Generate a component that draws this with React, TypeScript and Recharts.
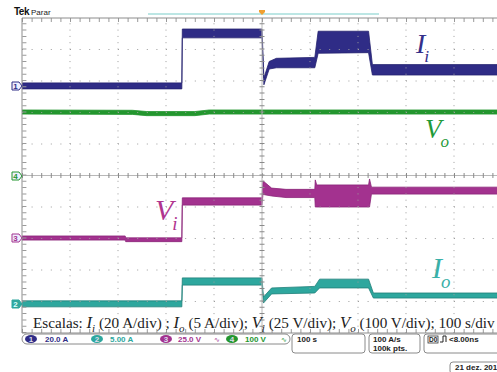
import React from "react";
import { ComposedChart, Area, XAxis, YAxis, ReferenceLine } from "recharts";

// time in divisions (100 s/div), values in screen divisions (0 = bottom of graticule)
const iiTime = [0, 3.33, 3.34, 5.0, 5.04, 5.15, 5.3, 6.1, 6.17, 7.22, 7.3, 10];
const iiHigh = [7.94, 7.94, 9.65, 9.65, 8.1, 8.62, 8.72, 8.75, 9.58, 9.58, 8.52, 8.52];
const iiLow = [7.75, 7.75, 9.37, 9.37, 7.88, 8.38, 8.42, 8.42, 8.88, 8.9, 8.19, 8.19];

const voTime = [0, 2.3, 2.6, 3.6, 3.9, 10];
const voHigh = [7.08, 7.07, 7.03, 7.03, 7.08, 7.08];
const voLow = [6.95, 6.94, 6.9, 6.9, 6.95, 6.95];

const viTime = [0, 2.15, 2.16, 3.33, 3.34, 5.0, 5.02, 5.2, 5.5, 6.1, 6.11, 6.14, 7.22, 7.24, 7.28, 10];
const viHigh = [3.08, 3.08, 3.02, 3.02, 4.29, 4.29, 4.83, 4.6, 4.56, 4.56, 4.86, 4.7, 4.7, 4.89, 4.63, 4.63];
const viLow = [2.95, 2.95, 2.9, 2.9, 4.06, 4.06, 4.4, 4.35, 4.3, 4.3, 4.0, 4.0, 4.0, 4.0, 4.41, 4.41];

const ioTime = [0, 3.33, 3.34, 5.0, 5.03, 5.2, 6.1, 6.2, 7.22, 7.32, 10];
const ioHigh = [1.02, 1.02, 1.75, 1.75, 1.14, 1.43, 1.48, 1.71, 1.71, 1.27, 1.27];
const ioLow = [0.83, 0.83, 1.52, 1.52, 0.95, 1.24, 1.27, 1.43, 1.43, 1.11, 1.11];

const divTicks = [0, 1, 2, 3, 4, 5, 6, 7, 8, 9, 10];
const innerTicks = [1, 2, 3, 4, 6, 7, 8, 9];

const C_II = "#2f2c86";
const C_VO = "#23962e";
const C_VI = "#a3328f";
const C_IO = "#2ea79e";
const GRID = "#9c9c9c";

const band = (t: number[], lo: number[], hi: number[]) =>
  t.map((x, i) => ({ t: x, band: [lo[i], hi[i]] }));

const serif = "'Liberation Serif', 'Times New Roman', serif";
const sans = "'Liberation Sans', Arial, sans-serif";

function Marker({ y, n, color, filled }: { y: number; n: string; color: string; filled?: boolean }) {
  return (
    <g>
      <path
        d={`M12 ${y - 4} H19 L22 ${y} L19 ${y + 4} H12 Z`}
        fill={filled ? color : "#eef"}
        stroke={color}
        strokeWidth={1}
      />
      <text x={15.5} y={y + 3} fontSize={8} fontFamily={sans} fontWeight="bold" fill={filled ? "#dff" : color} textAnchor="middle">
        {n}
      </text>
    </g>
  );
}

function Chip({ cx, n, color }: { cx: number; n: string; color: string }) {
  return (
    <g>
      <ellipse cx={cx} cy={339} rx={6} ry={4} fill={color} />
      <text x={cx} y={342} fontSize={8} fontFamily={sans} fontWeight="bold" fill="#dde" textAnchor="middle">
        {n}
      </text>
    </g>
  );
}

function Label({ x, y, main, sub, size, color }: { x: number; y: number; main: string; sub: string; size: number; color: string }) {
  return (
    <text x={x} y={y} fontSize={size} fontFamily={serif} fontStyle="italic" fill={color}>
      {main}
      <tspan fontSize={size * 0.63} dx={-1} dy={size * 0.32}>{sub}</tspan>
    </text>
  );
}

export default function App() {
  return (
    <div style={{ position: "absolute", left: 0, top: 0, width: 497, height: 372, overflow: "hidden", background: "#fff" }}>
      <div style={{ position: "absolute", left: 0, top: 0 }}>
        <ComposedChart width={510} height={372} margin={{ top: 18, left: 22, right: 8, bottom: 39 }}>
          <XAxis dataKey="t" type="number" domain={[0, 10]} ticks={divTicks} hide allowDataOverflow />
          <YAxis type="number" domain={[0, 10]} ticks={divTicks} hide allowDataOverflow />
          {innerTicks.map((v) => (
            <ReferenceLine key={"h" + v} y={v} stroke={GRID} strokeDasharray="1 8.6" />
          ))}
          {innerTicks.map((v) => (
            <ReferenceLine key={"v" + v} x={v} stroke={GRID} strokeDasharray="1 5.3" />
          ))}
          <ReferenceLine y={5} stroke="#b8b8b8" />
          <ReferenceLine y={5} stroke="#8a8a8a" strokeWidth={5} strokeDasharray="1 8.6" />
          <ReferenceLine x={5} stroke="#b8b8b8" />
          <ReferenceLine x={5} stroke="#8a8a8a" strokeWidth={5} strokeDasharray="1 5.3" />
          <ReferenceLine x={0.05} stroke="#9a9a9a" strokeWidth={4} strokeDasharray="1 5.3" />
          <ReferenceLine y={9.935} stroke="#9a9a9a" strokeWidth={4} strokeDasharray="1 8.6" />
          <ReferenceLine y={0.065} stroke="#9a9a9a" strokeWidth={4} strokeDasharray="1 8.6" />
          <ReferenceLine y={10} stroke="#8c8c8c" />
          <ReferenceLine y={0} stroke="#8c8c8c" />
          <ReferenceLine x={0} stroke="#8c8c8c" />
          <Area data={band(voTime, voLow, voHigh)} dataKey="band" type="linear" stroke={C_VO} strokeWidth={0.8} fill={C_VO} fillOpacity={1} isAnimationActive={false} dot={false} activeDot={false} />
          <Area data={band(iiTime, iiLow, iiHigh)} dataKey="band" type="linear" stroke="#24226e" strokeWidth={0.8} fill={C_II} fillOpacity={1} isAnimationActive={false} dot={false} activeDot={false} />
          <Area data={band(viTime, viLow, viHigh)} dataKey="band" type="linear" stroke="#8a2479" strokeWidth={0.8} fill={C_VI} fillOpacity={1} isAnimationActive={false} dot={false} activeDot={false} />
          <Area data={band(ioTime, ioLow, ioHigh)} dataKey="band" type="linear" stroke="#1e7f78" strokeWidth={0.8} fill={C_IO} fillOpacity={1} isAnimationActive={false} dot={false} activeDot={false} />
        </ComposedChart>
      </div>
      <svg width={497} height={372} style={{ position: "absolute", left: 0, top: 0, pointerEvents: "none" }}>
        <text x={14} y={15} fontSize={10} fontFamily={sans} fontWeight="bold" fill="#111" letterSpacing={-0.5}>
          Tek
        </text>
        <text x={31} y={15} fontSize={8} fontFamily={sans} fill="#222">
          Parar
        </text>
        <line x1={148} x2={379} y1={14} y2={14} stroke="#a6dedb" strokeWidth={1.5} />
        <path d="M259 10 H265 V12 L262 15 L259 12 Z" fill="#f0a030" />

        <Marker y={86} n="1" color={C_II} />
        <Marker y={176} n="4" color={C_VO} />
        <Marker y={238} n="3" color={C_VI} />
        <Marker y={304} n="2" color={C_IO} filled />

        <Label x={416} y={53} main="I" sub="i" size={28} color="#34308a" />
        <Label x={425} y={138} main="V" sub="o" size={27} color="#1f9a3a" />
        <Label x={155} y={220} main="V" sub="i" size={30} color="#b0348f" />
        <Label x={432} y={278} main="I" sub="o" size={30} color="#3ab0a8" />

        <text x={33} y={328} fontSize={15.2} fontFamily={serif} fill="#222">
          Escalas:{" "}
          <tspan fontStyle="italic" fontSize={16.5}>I</tspan>
          <tspan fontStyle="italic" fontSize={11} dy={4}>i</tspan>
          <tspan dy={-4}> (20 A/div) ; </tspan>
          <tspan fontStyle="italic" fontSize={16.5}>I</tspan>
          <tspan fontStyle="italic" fontSize={11} dy={4}>o</tspan>
          <tspan dy={-4}> (5 A/div); </tspan>
          <tspan fontStyle="italic" fontSize={16.5}>V</tspan>
          <tspan fontStyle="italic" fontSize={11} dy={4}>i</tspan>
          <tspan dy={-4}> (25 V/div); </tspan>
          <tspan fontStyle="italic" fontSize={16.5}>V</tspan>
          <tspan fontStyle="italic" fontSize={11} dy={4}>o</tspan>
          <tspan dy={-4}> (100 V/div); 100 s/div</tspan>
        </text>

        <rect x={22} y={334} width={268} height={10} rx={5} fill="#fff" stroke="#8a8a8a" />
        <Chip cx={31} n="1" color={C_II} />
        <text x={45} y={342} fontSize={8} fontFamily={sans} fontWeight="bold" fill={C_II}>20.0 A</text>
        <Chip cx={97} n="2" color={C_IO} />
        <text x={110} y={342} fontSize={8} fontFamily={sans} fontWeight="bold" fill={C_IO}>5.00 A</text>
        <Chip cx={166} n="3" color={C_VI} />
        <text x={178} y={342} fontSize={8} fontFamily={sans} fontWeight="bold" fill={C_VI}>25.0 V</text>
        <text x={214} y={342} fontSize={7} fontFamily={sans} fill={C_VI}>∿</text>
        <Chip cx={232} n="4" color={C_VO} />
        <text x={245} y={342} fontSize={8} fontFamily={sans} fontWeight="bold" fill={C_VO}>100 V</text>
        <text x={281} y={342} fontSize={7} fontFamily={sans} fill={C_VO}>∿</text>

        <rect x={292} y={334} width={73} height={19} rx={3} fill="#fff" stroke="#8a8a8a" />
        <text x={297} y={342} fontSize={8} fontFamily={sans} fontWeight="bold" fill="#222">100 s</text>
        <rect x={369} y={334} width={51} height={19} rx={3} fill="#fff" stroke="#8a8a8a" />
        <text x={373} y={342} fontSize={8} fontFamily={sans} fontWeight="bold" fill="#222">100 A/s</text>
        <text x={373} y={351} fontSize={8} fontFamily={sans} fontWeight="bold" fill="#222">100k pts.</text>
        <rect x={424} y={334} width={80} height={19} rx={3} fill="#fff" stroke="#8a8a8a" />
        <rect x={428} y={336} width={10} height={7} fill="#fff" stroke="#333" strokeWidth={0.8} />
        <text x={429} y={342} fontSize={6.5} fontFamily={sans} fontWeight="bold" fill="#222">D0</text>
        <path d="M440 342 H443 V336 H446 V342" fill="none" stroke="#222" strokeWidth={1} />
        <text x={449} y={342} fontSize={8} fontFamily={sans} fontWeight="bold" fill="#222">&lt;8.00ns</text>
        <rect x={450} y={362} width={60} height={12} rx={3} fill="#fff" stroke="#8a8a8a" />
        <text x={455} y={370} fontSize={8} fontFamily={sans} fontWeight="bold" fill="#222">21 dez. 201</text>
      </svg>
    </div>
  );
}
